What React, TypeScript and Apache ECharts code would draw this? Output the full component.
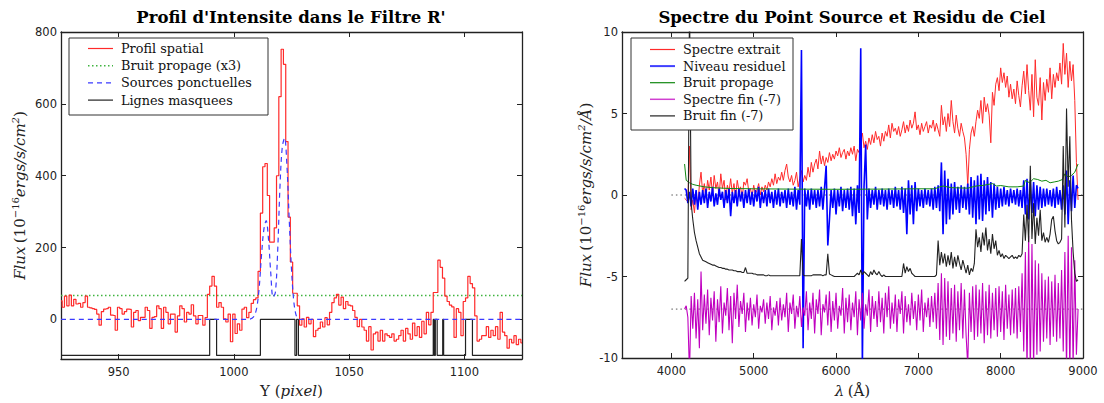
import React, { useEffect, useRef } from "react";
import * as echarts from "echarts";

// ---------------- Left panel data ----------------
const PIX_START = 925;
const PROFIL_SPATIAL = [
  52, 34, 65, 38, 68, 38, 56, 43, 45, 34, 47, 65, 34, 32, 30, 28, 15, -16, 22, 29,
  30, 34, 12, 11, -30, 34, 30, 15, 22, 29, 28, -21, 20, 25, -3, 6, 6, 34, 25, -25,
  6, 8, 38, 30, -25, 34, 20, -12, 15, 15, -35, 10, 38, 30, -7, 20, 15, 41, 10, -12,
  11, 11, -16, 5, 70, 93, 120, 93, 34, 47, 34, 2, -7, 15, -62, 15, -39, -12, -30, 29,
  34, 5, 20, 45, 55, 60, 134, 296, 425, 434, 345, 215, 215, 255, 400, 620, 752, 710, 495, 285,
  160, 73, 73, 38, -16, 2, -21, 6, -12, 0, -48, -30, -25, -7, -21, 5, -15, 20, 47, 60,
  70, 40, 62, 30, 50, 40, 38, 25, 6, -20, 0, -21, -30, -60, -20, -85, -40, -35, -60, -30,
  -60, -40, -45, -50, -40, -60, -55, -45, -30, -60, -25, -40, -55, -10, -45, -20, -50, -5, -40, 20,
  -15, 20, 75, 75, 165, 145, 115, 65, 50, 40, 35, -50, 30, 20, -45, 50, 60, 120, 100, 88,
  10, -60, -55, -45, -45, -20, -50, -30, -45, -20, -55, 20, -35, -45, -80, -55, -65, -45, -70, -55,
  -65,
];
const BRUIT_PROPAGE_X3 = 67;
const SOURCES_PONCTUELLES: [number, number][] = [
  [925, 0], [1006, 0], [1007, 1], [1008, 4], [1009, 12], [1010, 35], [1011, 90], [1012, 180],
  [1013, 250], [1014, 275], [1015, 225], [1016, 130], [1017, 62], [1018, 75], [1019, 190],
  [1020, 370], [1021, 480], [1022, 505], [1023, 430], [1024, 280], [1025, 140], [1026, 50],
  [1027, 12], [1028, 2], [1029, 0], [1125, 0],
];
const MASK_LOW = -100;
const MASK_HIGH = 0;
const MASK_RANGES: [number, number][] = [
  [989.5, 992.5], [1011.5, 1026.5], [1027.2, 1028.0], [1086.5, 1087.0],
  [1087.4, 1088.2], [1090.6, 1091.0], [1100.5, 1103.5],
];

// ---------------- Right panel data ----------------
const LAMBDA_START = 4160;
const LAMBDA_STEP = 20;
const SPECTRE_EXTRAIT = [
  -0.2, -0.3, -0.4, 3.0, -0.9, -0.3, -1.1, 0.2, -0.7, 0.6,
  1.4, 0.1, 0.7, -0.2, 0.9, 0.3, 1.1, 0.0, 1.2, 0.4,
  0.8, -0.1, 1.3, 0.4, 0.9, -0.3, 0.6, 0.2, 1.0, 0.1,
  0.7, -0.1, 0.9, 0.3, 0.5, -0.2, 0.8, 0.6, 1.0, 0.2,
  0.4, -0.1, 0.6, 0.1, 0.3, 0.7, 0.0, 0.5, 0.2, 0.6,
  0.3, 0.8, 0.5, 1.0, 0.6, 1.3, 0.7, 1.1, 0.9, 1.4,
  0.9, 1.5, 1.9, 1.1, 0.8, 1.2, 0.6, 0.9, 1.4, 0.5,
  1.0, 1.5, 0.8, 1.2, 0.9, 1.7, 1.1, 2.0, 1.4, 1.9,
  2.2, 1.6, 2.7, 1.9, 2.4, 1.8, 2.3, 2.0, 2.6, 2.1,
  2.5, 2.2, 2.7, 2.4, 2.9, 2.3, 2.6, 2.8, 2.2, 2.7,
  2.4, 2.9, 2.5, 3.0, 2.1, 2.8, 2.6, 3.3, 3.8, 2.9,
  3.3, 2.8, 3.5, 3.1, 3.7, 3.2, 3.9, 3.4, 3.6, 3.0,
  3.8, 3.3, 3.9, 3.6, 4.3, 3.5, 4.4, 3.9, 4.1, 3.7,
  4.2, 3.6, 4.0, 4.5, 3.8, 4.3, 3.9, 4.6, 4.1, 4.4,
  5.1, 4.0, 4.3, 3.7, 4.4, 3.9, 4.2, 4.5, 3.8, 4.3,
  4.1, 4.6, 3.9, 4.4, 4.0, 3.6, 5.5, 4.3, 4.8, 3.9,
  5.0, 4.2, 5.8, 4.5, 3.8, 4.9, 4.1, 3.6, 4.4, 3.9,
  3.5, 2.5, 0.6, 2.8, 3.8, 4.2, 3.6, 4.5, 5.2, 4.7,
  5.8, 4.4, 6.0, 5.1, 5.6, 4.9, 3.2, 6.3, 5.5, 6.8,
  7.2, 6.4, 7.8, 6.9, 7.5, 6.6, 7.3, 6.0, 6.8, 5.9,
  6.5, 5.6, 7.0, 6.1, 5.4, 6.7, 7.6, 6.2, 8.0, 6.4,
  5.2, 7.4, 4.8, 8.3, 6.0, 5.5, 7.2, 4.6, 6.9, 5.8,
  7.1, 6.3, 7.8, 5.9, 7.4, 6.6, 7.5, 7.0, 8.1, 6.8,
  9.3, 7.4, 8.7, 6.6, 8.2, 7.0, 8.0, 5.8, 2.0, -0.3,
];
const NIVEAU_RESIDUEL = [
  0.4, 0.3, -0.5, 0.2, -0.7, 0.4, -0.6, 0.3, -0.9, 0.2,
  -0.6, 0.3, -0.5, 0.4, -0.8, 0.2, -0.4, 0.5, -0.7, 0.1,
  -0.6, 0.4, -0.3, 0.2, -0.8, 0.3, -0.5, 0.4, -1.3, 0.2,
  -0.5, 0.3, -0.7, 0.4, -0.4, 0.2, -0.8, 0.3, -0.5, 0.4,
  -0.6, 0.2, -0.7, 0.3, -0.4, 0.5, -0.8, 0.2, -0.5, 0.3,
  -0.7, 0.4, -0.5, 0.2, -0.8, 0.3, -0.6, 0.4, -0.7, 0.2,
  -0.5, 0.3, -0.8, 0.4, -0.6, 0.2, -0.7, 0.5, -0.9, 0.3,
  -0.6, 8.9, -9.4, 0.4, -0.7, 0.3, -0.9, 0.4, -0.6, 0.3,
  -0.8, 0.3, -0.7, 0.5, -0.9, 0.4, 1.8, -3.1, -1.5, 0.3,
  -0.8, 0.4, -1.2, 0.3, -0.7, 0.5, -1.0, 0.3, -0.8, 0.4,
  -0.9, 0.5, -1.3, 0.4, -1.8, 0.6, -1.1, 9.0, -10.5, 0.5,
  3.1, -1.5, 0.4, -0.8, 0.3, -0.6, 0.5, -0.9, 0.3, -0.6,
  0.4, -0.7, 0.3, -0.9, 0.4, -0.6, 0.3, -0.8, 0.5, -0.7,
  0.3, -0.9, 0.5, -1.1, 0.4, -2.4, 0.9, -1.2, 0.6, -1.8,
  0.8, -1.0, 0.4, -0.7, 0.3, -0.8, 0.4, -0.6, 0.3, -0.7,
  0.4, -0.9, 0.5, -0.8, 0.6, -1.0, 2.0, -2.4, 1.5, -1.8,
  1.0, -1.5, 0.7, -1.2, 0.8, -0.9, 0.5, -1.1, 0.6, -0.8,
  0.5, -0.9, 0.7, -1.2, 1.1, -1.4, 0.9, -1.8, 1.2, -1.5,
  1.3, -1.6, 0.9, -1.2, 1.1, -1.0, 0.8, -1.4, 0.7, -0.9,
  0.5, -0.8, 0.4, -0.7, 0.5, -0.6, 0.3, -0.7, 0.4, -0.5,
  0.3, -0.6, 0.4, -0.7, 0.3, -0.8, 0.9, -1.2, 1.0, -1.5,
  0.9, -1.1, 0.8, -1.3, 0.6, -0.9, 0.5, -0.8, 0.4, -0.7,
  0.4, -0.6, 0.3, -0.7, 0.4, -0.8, 0.5, -0.6, 0.3, -0.9,
  0.6, -1.2, 1.5, -1.8, 0.9, -1.0, 1.2, -0.8, 0.6, 0.4,
];
const BRUIT_PROPAGE: [number, number][] = [
  [4160, 1.9], [4180, 0.9], [4220, 0.75], [4260, 0.65], [4300, 0.6], [4400, 0.5], [4500, 0.45],
  [4700, 0.4], [5000, 0.38], [5500, 0.36], [6000, 0.35], [6500, 0.36], [7000, 0.38], [7200, 0.38],
  [7260, 0.5], [7300, 0.55], [7400, 0.45], [7600, 0.42], [7700, 0.55], [7800, 0.6], [7900, 0.7],
  [7950, 0.55], [8000, 0.58], [8100, 0.5], [8200, 0.5], [8280, 0.55], [8300, 0.9], [8350, 0.75],
  [8400, 1.0], [8450, 0.95], [8500, 0.85], [8550, 0.9], [8600, 0.75], [8650, 0.8], [8700, 0.85],
  [8750, 0.95], [8780, 1.3], [8820, 1.1], [8860, 1.2], [8900, 1.4], [8940, 1.9],
];
const SPECTRE_FIN = [
  -7.0, -6.8, -7.5, -11.0, -6.2, -8.2, -6.0, -8.8, -6.4, -9.4,
  -4.7, -8.3, -6.1, -7.9, -5.8, -8.6, -6.3, -7.7, -5.9, -9.0,
  -6.4, -7.8, -5.6, -8.5, -6.6, -7.4, -5.7, -8.3, -6.2, -9.1,
  -6.0, -7.6, -5.5, -8.1, -6.5, -7.3, -6.0, -8.4, -6.6, -7.7,
  -6.3, -8.0, -6.7, -7.5, -6.1, -8.2, -6.8, -7.2, -6.4, -7.9,
  -6.6, -7.6, -6.2, -8.3, -6.9, -7.4, -6.5, -8.0, -6.3, -7.7,
  -6.7, -7.5, -6.0, -8.4, -6.6, -7.3, -6.1, -8.2, -6.8, -7.5,
  -6.2, -8.1, -6.9, -7.4, -5.9, -8.3, -6.6, -7.6, -6.0, -8.5,
  -6.4, -7.3, -5.8, -8.6, -6.7, -7.2, -6.1, -8.0, -5.9, -8.4,
  -6.5, -7.7, -6.0, -8.2, -6.8, -7.4, -5.7, -8.5, -6.3, -7.8,
  -6.1, -8.3, -6.6, -7.5, -5.9, -8.6, -6.4, -7.7, -6.0, -8.2,
  -6.7, -7.4, -5.8, -8.4, -6.2, -7.6, -6.5, -8.1, -5.9, -7.8,
  -6.3, -8.5, -6.0, -7.5, -5.6, -8.2, -6.6, -7.9, -6.1, -8.4,
  -6.4, -7.3, -5.9, -8.5, -6.2, -7.8, -6.7, -8.0, -6.0, -7.6,
  -6.5, -8.3, -6.1, -7.7, -5.8, -8.4, -6.6, -7.5, -6.3, -8.1,
  -6.2, -7.8, -6.0, -8.2, -5.4, -8.9, -4.8, -9.2, -5.1, -8.7,
  -5.3, -8.9, -5.7, -8.5, -5.5, -9.0, -5.9, -8.3, -5.4, -8.8,
  -5.8, -8.6, -10.5, -6.0, -8.4, -5.6, -8.9, -5.5, -8.7, -5.8,
  -8.5, -5.4, -9.1, -5.9, -8.6, -5.5, -8.8, -6.0, -8.3, -5.7,
  -8.7, -5.6, -8.4, -5.9, -8.9, -5.5, -8.2, -6.1, -8.6, -5.8,
  -8.5, -5.7, -8.8, -5.6, -8.4, -4.8, -9.6, -3.5, -10.8, -2.5,
  -11.0, -3.0, -10.6, -4.0, -9.8, -4.2, -9.6, -4.8, -9.0, -5.2,
  -8.8, -5.0, -9.2, -5.3, -8.7, -4.9, -9.0, -5.4, -8.8, -4.6,
  -9.6, -3.5, -10.8, -2.5, -11.0, -3.2, -10.5, -4.0, -9.8, -7.0,
];
const BRUIT_FIN = [
  -5.3, -5.2, -5.1, 12.0, -0.5, -1.5, -2.3, -2.8, -3.2, -3.6,
  -3.8, -4.0, -4.05, -4.1, -4.15, -4.2, -4.25, -4.3, -4.3, -4.35,
  -4.4, -4.45, -4.45, -4.5, -4.5, -4.55, -4.55, -4.6, -4.6, -4.6,
  -4.65, -4.65, -4.7, -4.7, -4.7, -4.75, -4.75, -4.45, -4.8, -4.8,
  -4.8, -4.8, -4.85, -4.85, -4.9, -4.9, -4.9, -4.9, -4.9, -4.95,
  -4.95, -4.9, -4.95, -4.95, -4.95, -4.95, -4.95, -4.95, -4.95, -4.95,
  -4.95, -4.95, -4.95, -4.95, -4.95, -4.95, -4.95, -4.95, -4.95, -4.95,
  -4.95, -2.7, -4.9, -4.95, -4.95, -4.95, -4.95, -4.95, -4.9, -4.9,
  -4.9, -4.9, -4.9, -4.9, -4.95, -4.9, -4.9, -3.6, -4.85, -4.9,
  -4.95, -5.0, -5.0, -5.0, -5.0, -5.0, -5.0, -5.0, -5.0, -5.0,
  -5.0, -5.0, -5.0, -5.0, -4.9, -4.8, -4.9, -4.6, -4.9, -4.7,
  -4.8, -4.9, -5.0, -4.7, -4.9, -4.6, -4.8, -4.9, -4.7, -4.9,
  -5.0, -4.9, -5.0, -5.0, -5.0, -5.0, -5.0, -5.0, -5.0, -5.0,
  -5.0, -5.0, -5.0, -4.2, -4.8, -4.4, -4.7, -4.5, -4.8, -4.9,
  -5.0, -5.0, -5.0, -5.0, -5.0, -5.0, -5.0, -5.0, -5.0, -5.0,
  -5.0, -5.0, -5.0, -4.9, -2.8, -4.3, -3.5, -4.2, -3.6, -4.4,
  -3.7, -4.3, -3.5, -4.5, -3.8, -4.4, -3.7, -4.2, -4.6, -4.0,
  -4.4, -4.8, -4.3, -4.9, -4.5, -4.7, -4.2, -2.1, -3.2, -2.6,
  -3.5, -2.3, -3.1, -2.0, -3.4, -2.7, -3.6, -2.4, -3.3, -2.8,
  -3.7, -3.4, -3.8, -3.6, -3.9, -3.7, -3.8, -3.9, -3.8, -3.7,
  -3.9, -3.8, -3.9, -3.7, -3.8, -3.6, -1.2, -2.8, -0.6, -2.9,
  1.8, -2.7, -0.5, -3.0, -1.4, -2.5, -0.9, -2.8, -2.3, -2.9,
  -2.6, -2.9, -2.4, -1.5, -1.3, -2.2, -2.8, -3.0, -2.9, -2.7,
  3.0, -2.0, 5.3, 0.5, 3.6, -1.5, -3.5, -4.8, -5.3, -5.2,
];
const ZERO_LEVELS = [0, -7];
const ZERO_SPAN: [number, number] = [4000, 9000];

// ---------------- Axes ticks ----------------
const X1_TICKS = [950, 1000, 1050, 1100];
const Y1_TICKS = [0, 200, 400, 600, 800];
const X2_TICKS = [4000, 5000, 6000, 7000, 8000, 9000];
const Y2_TICKS = [-10, -5, 0, 5, 10];

const LEFT_LEGEND = ["Profil spatial", "Bruit propage (x3)", "Sources ponctuelles", "Lignes masquees"];
const RIGHT_LEGEND = ["Spectre extrait", "Niveau residuel", "Bruit propage", "Spectre fin (-7)", "Bruit fin (-7)"];

const C = {
  red: "#ff2a2a",
  green1: "#3fb33f",
  blue1: "#3a3aff",
  black: "#222222",
  blue: "#0000ff",
  green: "#118811",
  magenta: "#c000c0",
};

const SANS = "DejaVu Sans";
const SERIF = "DejaVu Serif";

function buildOption(): any {
  const profil = PROFIL_SPATIAL.map((v, i) => [PIX_START + i, v]);
  const xMin1 = PIX_START;
  const xMax1 = PIX_START + PROFIL_SPATIAL.length - 1;
  const mask: number[][] = [[xMin1, MASK_LOW]];
  MASK_RANGES.forEach(([a, b]) => {
    mask.push([a, MASK_LOW], [a, MASK_HIGH], [b, MASK_HIGH], [b, MASK_LOW]);
  });
  mask.push([xMax1, MASK_LOW]);
  const spec = (arr: number[]) => arr.map((v, i) => [LAMBDA_START + i * LAMBDA_STEP, v]);

  const axLine = { show: true, onZero: false, lineStyle: { color: "#222", width: 1.3 } };
  const tick = (vals: number[]) => ({ show: true, inside: true, length: 5, customValues: vals, lineStyle: { color: "#222", width: 1 } });
  const lab = (vals: number[], show: boolean, margin: number) => ({
    show, customValues: vals, fontFamily: SANS, fontSize: 11.5, color: "#222", margin,
    formatter: (v: number) => String(v),
  });
  const richName = {
    i: { fontFamily: SERIF, fontStyle: "italic", fontSize: 15, color: "#222" },
    n: { fontFamily: SERIF, fontSize: 15, color: "#222" },
    sup: { fontFamily: SERIF, fontSize: 10, color: "#222", verticalAlign: "top", padding: [0, 0, 9, 0] },
    supi: { fontFamily: SERIF, fontStyle: "italic", fontSize: 10, color: "#222", verticalAlign: "top", padding: [0, 0, 9, 0] },
  };

  const xAxes = [
    {
      gridIndex: 0, type: "value", min: xMin1, max: xMax1, position: "bottom",
      axisLine: axLine, axisTick: tick(X1_TICKS), axisLabel: lab(X1_TICKS, true, 7), splitLine: { show: false },
      name: "{n|Y (}{i|pixel}{n|)}", nameLocation: "middle", nameGap: 24,
      nameTextStyle: { rich: richName },
    },
    {
      gridIndex: 0, type: "value", min: xMin1, max: xMax1, position: "top",
      axisLine: axLine, axisTick: tick(X1_TICKS), axisLabel: { show: false }, splitLine: { show: false },
    },
    {
      gridIndex: 1, type: "value", min: 3400, max: 9000, position: "bottom",
      axisLine: axLine, axisTick: tick(X2_TICKS), axisLabel: lab(X2_TICKS, true, 7), splitLine: { show: false },
      name: "{i|λ} {n|(Å)}", nameLocation: "middle", nameGap: 25,
      nameTextStyle: { rich: richName },
    },
    {
      gridIndex: 1, type: "value", min: 3400, max: 9000, position: "top",
      axisLine: axLine, axisTick: tick(X2_TICKS), axisLabel: { show: false }, splitLine: { show: false },
    },
  ];
  const yAxes = [
    {
      gridIndex: 0, type: "value", min: -110, max: 800, position: "left",
      axisLine: axLine, axisTick: tick(Y1_TICKS), axisLabel: lab(Y1_TICKS, true, 4), splitLine: { show: false },
      name: "{i|Flux} {n|(10}{sup|−16}{i|ergs/s/cm}{supi|2}{n|)}", nameLocation: "middle", nameGap: 32, nameRotate: 90,
      nameTextStyle: { rich: richName },
    },
    {
      gridIndex: 0, type: "value", min: -110, max: 800, position: "right",
      axisLine: axLine, axisTick: tick(Y1_TICKS), axisLabel: { show: false }, splitLine: { show: false },
    },
    {
      gridIndex: 1, type: "value", min: -10, max: 10, position: "left",
      axisLine: axLine, axisTick: tick(Y2_TICKS), axisLabel: lab(Y2_TICKS, true, 4), splitLine: { show: false },
      name: "{i|Flux} {n|(10}{sup|−16}{i|ergs/s/cm}{supi|2}{i|/Å}{n|)}", nameLocation: "middle", nameGap: 27, nameRotate: 90,
      nameTextStyle: { rich: richName },
    },
    {
      gridIndex: 1, type: "value", min: -10, max: 10, position: "right",
      axisLine: axLine, axisTick: tick(Y2_TICKS), axisLabel: { show: false }, splitLine: { show: false },
    },
  ];

  const line = (name: string, data: any, xi: number, yi: number, color: string, width: number, extra: any = {}) => ({
    type: "line", name, data, xAxisIndex: xi, yAxisIndex: yi, showSymbol: false, symbol: "none",
    lineStyle: { color, width, ...(extra.lineStyle || {}) }, clip: true, silent: true,
    ...Object.fromEntries(Object.entries(extra).filter(([k]) => k !== "lineStyle")),
  });

  const series: any[] = [
    line(LEFT_LEGEND[1], [[xMin1, BRUIT_PROPAGE_X3], [xMax1, BRUIT_PROPAGE_X3]], 0, 0, C.green1, 1.5, { lineStyle: { type: [1.5, 2.5] } }),
    line(LEFT_LEGEND[3], mask, 0, 0, C.black, 1.2),
    line(LEFT_LEGEND[0], profil, 0, 0, C.red, 1.2, { step: "middle" }),
    line(LEFT_LEGEND[2], SOURCES_PONCTUELLES, 0, 0, C.blue1, 1.2, { smooth: 0.35, lineStyle: { type: [5, 4] } }),
    ...ZERO_LEVELS.map((lv) => line("ref" + lv, [[ZERO_SPAN[0], lv], [ZERO_SPAN[1], lv]], 2, 2, "#444", 0.9, { lineStyle: { type: [1.5, 3] } })),
    line(RIGHT_LEGEND[0], spec(SPECTRE_EXTRAIT), 2, 2, C.red, 1),
    line(RIGHT_LEGEND[1], spec(NIVEAU_RESIDUEL), 2, 2, C.blue, 1.6),
    line(RIGHT_LEGEND[2], BRUIT_PROPAGE, 2, 2, C.green, 1),
    line(RIGHT_LEGEND[3], spec(SPECTRE_FIN), 2, 2, C.magenta, 1.1),
    line(RIGHT_LEGEND[4], spec(BRUIT_FIN), 2, 2, C.black, 1.1),
  ];

  const legendBox = (x: number, y: number, w: number, h: number, items: string[], styles: any[], rowY0: number, rowH: number) => {
    const els: any[] = [
      { type: "rect", shape: { x, y, width: w, height: h }, style: { fill: "#fff", stroke: "#333", lineWidth: 1 }, z: 100 },
    ];
    items.forEach((t, k) => {
      const yy = rowY0 + k * rowH;
      els.push({ type: "line", shape: { x1: x + 19, y1: yy, x2: x + 44, y2: yy }, style: { ...styles[k], fill: null }, z: 101 });
      els.push({ type: "text", x: x + 52, y: yy, style: { text: t, fontFamily: SERIF, fontSize: 12.8, fill: "#111", align: "left", verticalAlign: "middle" }, z: 101 });
    });
    return els;
  };

  const graphic = [
    { type: "text", x: 291, y: 17, style: { text: "Profil d'Intensite dans le Filtre R'", fontFamily: SERIF, fontWeight: "bold", fontSize: 16.5, fill: "#000", align: "center", verticalAlign: "middle" } },
    { type: "text", x: 852, y: 17, style: { text: "Spectre du Point Source et Residu de Ciel", fontFamily: SERIF, fontWeight: "bold", fontSize: 16.5, fill: "#000", align: "center", verticalAlign: "middle" } },
    ...legendBox(69, 38, 199, 77, LEFT_LEGEND, [
      { stroke: C.red, lineWidth: 1.2 },
      { stroke: C.green1, lineWidth: 1.5, lineDash: [1.5, 2.5] },
      { stroke: C.blue1, lineWidth: 1.2, lineDash: [5, 4] },
      { stroke: C.black, lineWidth: 1.2 },
    ], 48.5, 17.2),
    ...legendBox(631, 38, 162, 92, RIGHT_LEGEND, [
      { stroke: C.red, lineWidth: 1.2 },
      { stroke: "#4040ff", lineWidth: 2 },
      { stroke: C.green, lineWidth: 1.2 },
      { stroke: "#d040d0", lineWidth: 1.5 },
      { stroke: C.black, lineWidth: 1.2 },
    ], 49.5, 16.6),
  ];

  return {
    animation: false,
    backgroundColor: "#fff",
    grid: [
      { left: 61, top: 32, width: 461, height: 334 },
      { left: 622, top: 32, width: 461, height: 334 },
    ],
    xAxis: xAxes,
    yAxis: yAxes,
    series,
    graphic,
  };
}

export default function App() {
  const ref = useRef<HTMLDivElement>(null);
  useEffect(() => {
    if (!ref.current) return;
    const chart = echarts.init(ref.current, null, { renderer: "svg" });
    chart.setOption(buildOption());
    return () => chart.dispose();
  }, []);
  return (
    <div
      ref={ref}
      style={{ position: "absolute", left: 0, top: 0, width: 1104, height: 403, background: "#fff" }}
    />
  );
}
